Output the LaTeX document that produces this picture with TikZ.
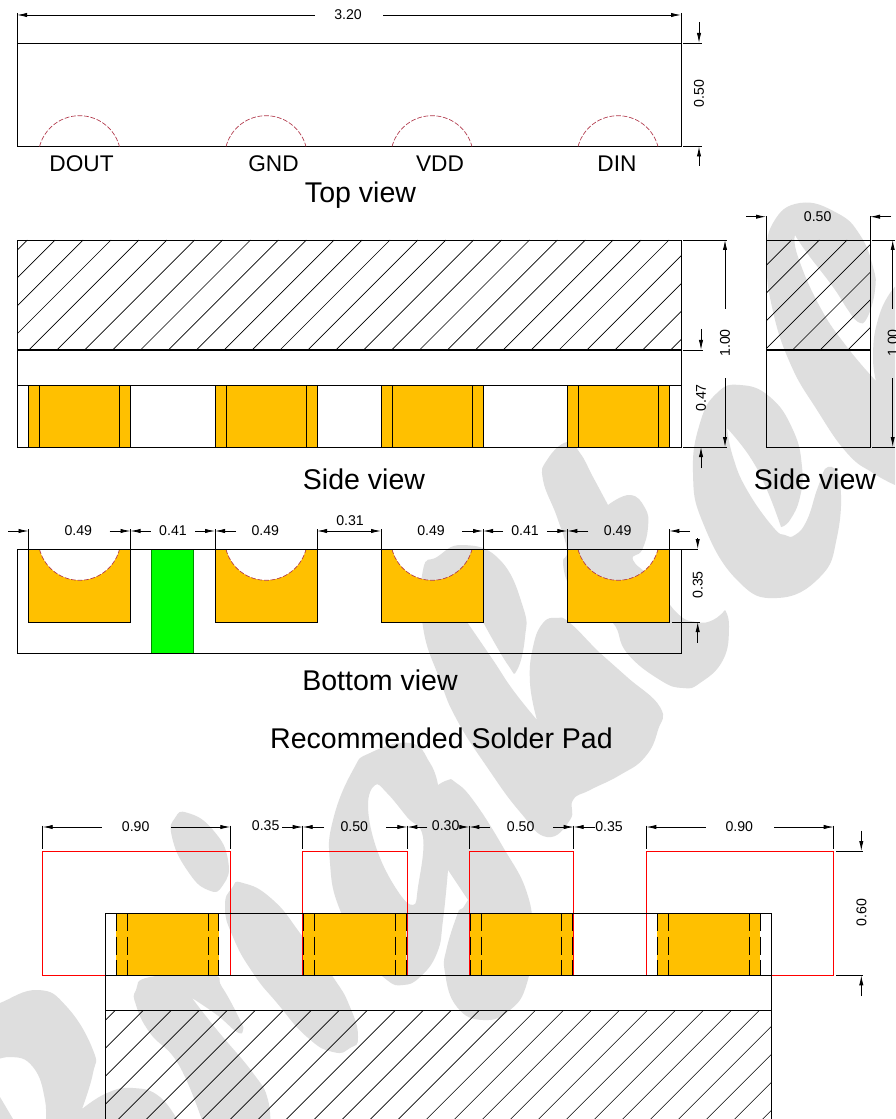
\documentclass[tikz,border=0pt]{standalone}
\usepackage{fontspec}
\setmainfont{Liberation Sans}
\usetikzlibrary{arrows.meta}
\definecolor{padorange}{HTML}{FFC000}
\definecolor{wmgray}{HTML}{DEDEDE}
\definecolor{pinred}{HTML}{B23A4C}
\tikzset{
  outline/.style={line width=0.68pt,black},
  hatchline/.style={line width=0.5pt,black},
  extline/.style={line width=0.62pt,black},
  dimline/.style={line width=0.62pt,black,-{Latex[length=7.5pt,width=3.2pt]}},
  redpad/.style={line width=0.9pt,red},
  pinarc/.style={line width=0.5pt,pinred,dash pattern=on 3.6pt off 1.3pt},
  padline/.style={line width=0.65pt,black},
  paddash/.style={line width=0.65pt,black,dash pattern=on 13.5pt off 4pt},
  dimlabel/.style={inner sep=0pt,font=\fontsize{10.6pt}{12pt}\selectfont},
  pinlabel/.style={inner sep=0pt,font=\fontsize{17pt}{20pt}\selectfont},
  titlelabel/.style={inner sep=0pt,font=\fontsize{21.4pt}{25pt}\selectfont},
  markblob/.style={fill=wmgray,draw=none},
  wm/.style={smooth,tension=0.8},
}
% tail x, tail y, tip x, tip y
\newcommand\dimarrow[4]{\draw[dimline] (#1,#2) -- (#3,#4);}
\newcommand\hatchbox[6]{%
  \begin{scope}
    \clip (#1,#2) rectangle (#3,#4);
    \foreach \k in {-40,...,40}{
      \pgfmathsetmacro\uval{#5+#6*\k}
      \draw[hatchline] ({\uval-#2},#2) -- ({\uval-#4},#4);
    }
  \end{scope}}
\newcommand\sidepad[6]{% x1 x2 x3 x4 ytop ybot
  \fill[padorange] (#1,#5) rectangle (#4,#6);
  \foreach \xp in {#1,#2,#3,#4}{\draw[padline] (\xp,#5) -- (\xp,#6);}}
\newcommand\solderpad[4]{% x1 x2 x3 x4
  \fill[padorange] (#1,913.3) rectangle (#4,975.3);
  \foreach \xp in {#1,#2,#3,#4}{\draw[paddash] (\xp,913.3) -- (\xp,975.3);}}
\newcommand\toparc[1]{%
  \draw[pinarc] plot[variable=\ang,domain=-75.3:75.3,samples=40] ({#1+41.3*sin(\ang)},{157-41.3*cos(\ang)});}
\newcommand\botpad[3]{% x1 x2 cx
  \fill[padorange] (#1,549) -- plot[variable=\ang,domain=-75.3:75.3,samples=40] ({#3+41.3*sin(\ang)},{539+41.3*cos(\ang)}) -- (#2,549) -- (#2,622) -- (#1,622) -- cycle;
  \draw[padline] (#1,549) -- (#1,622) -- (#2,622) -- (#2,549);
  \draw[pinarc] plot[variable=\ang,domain=-75.3:75.3,samples=40] ({#3+41.3*sin(\ang)},{539+41.3*cos(\ang)});}
\begin{document}
\begin{tikzpicture}[x=0.75pt,y=-0.75pt]
\clip (0,0) rectangle (895,1119);
\fill[white] (0,0) rectangle (895,1119);

% ---------- watermark ----------
% e upper
\fill[markblob] plot[wm] coordinates {(876,381) (873,357) (877,323) (890,293) (905,280)} -- (905,490) --
 plot[wm] coordinates {(895,485) (873,473) (847,453) (817,410) (790,363) (772,307) (767,260) (773,223) (800,203) (837,213) (860,235) (873,267) (875,290) (867,318) (858,322) (848,310) (833,287) (807,253) (795,235)} --
 plot[wm] coordinates {(795,235) (798,257) (820,307) (847,347) (876,381)} -- cycle;
% e lower loop
\fill[markblob] plot[wm] coordinates {(727,428) (733,457) (747,490) (773,527) (785,535) (795,535) (807,520) (818,487) (828,467) (840,483) (837,537) (820,577) (777,598) (737,580) (703,523) (693,473) (700,423) (717,393) (740,385) (770,397) (793,430) (802,467) (800,497) (790,520) (781,527)} --
 plot[wm] coordinates {(781,527) (767,490) (750,457) (727,428)} -- cycle;
% t with hook
\fill[markblob] plot[wm] coordinates {(725,610) (729,627) (723,660) (700,683) (683,688) (660,680) (627,653) (613,623) (587,607) (570,587) (563,563) (567,550) (557,517) (543,480) (547,460) (567,442) (580,453) (593,477) (608,505)} --
 plot[wm] coordinates {(608,505) (630,495) (645,508) (648,527) (642,550) (633,560) (653,580) (677,613) (697,622) (713,620) (725,610)} -- cycle;
% h body
\fill[markblob] plot[wm] coordinates {(537,720) (530,683) (533,647) (543,623) (557,618) (570,623) (600,653) (627,677) (660,707) (658,730) (645,757) (620,775) (590,790) (573,800) (570,820) (547,837) (520,812) (487,767) (457,720) (440,680) (423,627) (423,570) (437,557) (463,545) (500,560) (523,607) (525,637) (517,670) (508,665) (483,622)} --
 plot[wm] coordinates {(467,622) (493,660) (513,690) (537,720)} -- cycle;
% g with counter
\fill[markblob,even odd rule] (448,870) -- (468,900) -- (463,908) --
 plot[wm] coordinates {(459,910) (447,947) (445,973) (457,1007) (483,1020) (510,1010) (527,983) (532,937) (527,893) (503,847) (473,800) (455,782) (448,780) (438,785)} --
 plot[wm] coordinates {(438,785) (430,763) (410,743) (370,753) (353,770) (333,820) (330,863) (340,910) (367,957) (387,980) (403,985) (420,977) (437,953) (443,920) (448,870)} -- cycle
 plot[smooth cycle,tension=0.7] coordinates {(375,785) (368,807) (377,850) (397,890) (413,905) (418,887) (423,837) (407,817) (387,793)};
% i dot
\fill[markblob] plot[smooth cycle,tension=0.9] coordinates {(188,813) (213,830) (228,860) (223,885) (208,890) (187,870) (172,837) (175,818)};
% i stem
\fill[markblob] plot[smooth cycle,tension=0.9] coordinates {(243,883) (273,900) (303,937) (333,977) (350,1007) (358,1037) (350,1048) (333,1052) (307,1037) (277,1003) (253,973) (233,937) (225,907) (232,888)};
% r stroke
\fill[markblob] plot[wm] coordinates {(192,998) (217,1030) (253,1073) (268,1100) (270,1135)} -- (207,1135) --
 plot[wm] coordinates {(207,1135) (180,1067) (150,1033) (136,1005) (136,990) (150,977) (210,975) (222,987) (240,1020) (243,1030) (237,1032) (217,1015) (192,998)} -- cycle;
% B
\fill[markblob] plot[wm] coordinates {(-15,1010) (0,1003) (38,990) (67,1007) (93,1050) (93,1073) (82,1109)} --
 plot[wm] coordinates {(82,1109) (107,1093) (133,1088) (160,1097) (180,1125)} -- (45,1130) --
 plot[wm] coordinates {(45,1130) (45,1100) (33,1067) (10,1057) (-15,1065)} -- cycle;
\fill[markblob] (0,1097) -- (13,1119) -- (0,1119) -- cycle;

% ---------- top view ----------
\draw[outline] (17,43) rectangle (681,146.5);
\toparc{79.5}\toparc{266}\toparc{432}\toparc{618}
\node[pinlabel] (pinA) at (81.5,163.5) {DOUT};
\node[pinlabel] (pinB) at (273.5,163.5) {GND};
\node[pinlabel] (pinC) at (440,163.5) {VDD};
\node[pinlabel] (pinD) at (617,163.5) {DIN};
\node[titlelabel] (topTitle) at (360.5,195) {Top view};
\draw[extline] (17,13) -- (17,43);
\draw[extline] (681,13) -- (681,43);
\dimarrow{314.7}{15}{17}{15}
\dimarrow{383}{15}{681}{15}
\node[dimlabel] (d320) at (348,15) {3.20};
\draw[extline] (683,43) -- (702,43);
\draw[extline] (683,146.5) -- (702,146.5);
\dimarrow{699}{22}{699}{43}
\dimarrow{699}{166}{699}{146.5}
\node[dimlabel,rotate=90] (d050a) at (699,93.5) {0.50};

% ---------- side view ----------
\sidepad{28.5}{39.5}{119.5}{130.5}{385}{447}
\sidepad{215}{226}{306.3}{317}{385}{447}
\sidepad{381}{392}{472}{483}{385}{447}
\sidepad{567.3}{578.3}{658.3}{669.3}{385}{447}
\hatchbox{17}{240}{681}{350}{713.7}{27.9}
\draw[outline] (17,240) rectangle (681,447);
\draw[line width=0.9pt] (17,350) -- (681,350);
\draw[outline] (17,385) -- (681,385);
\node[titlelabel] (sideTitle) at (364,479.5) {Side view};
\draw[extline] (683,240) -- (727,240);
\draw[extline] (683,447) -- (727,447);
\dimarrow{725}{309}{725}{240}
\dimarrow{725}{378}{725}{447}
\node[dimlabel,rotate=90] (d100a) at (725,343) {1.00};
\draw[extline] (683,350) -- (703,350);
\dimarrow{701}{329}{701}{350}
\dimarrow{701}{468}{701}{447}
\node[dimlabel,rotate=90] (d047) at (701,398) {0.47};

% ---------- second side view ----------
\hatchbox{766}{240}{870}{350}{1031.7}{27.7}
\draw[outline] (766,240) rectangle (870,447);
\draw[line width=0.9pt] (766,350) -- (870,350);
\node[titlelabel] (sideTitleB) at (815,479.5) {Side view};
\draw[extline] (766,216) -- (766,240);
\draw[extline] (870,216) -- (870,240);
\dimarrow{746}{216.7}{766}{216.7}
\dimarrow{891}{216.7}{870}{216.7}
\node[dimlabel] (d050b) at (817.7,217) {0.50};
\draw[extline] (872,240) -- (895,240);
\draw[extline] (872,447) -- (895,447);
\dimarrow{892.7}{309}{892.7}{240}
\dimarrow{892.7}{378}{892.7}{447}
\node[dimlabel,rotate=90] (d100b) at (892.7,343) {1.00};

% ---------- bottom view ----------
\botpad{28.5}{130.5}{79.5}
\botpad{215}{317}{266}
\botpad{381}{483}{432}
\botpad{567.3}{669.3}{618}
\fill[green] (151.7,549) rectangle (193.7,653);
\draw[line width=0.4pt,black!45!green] (151.7,549) -- (151.7,653) (193.7,549) -- (193.7,653);
\draw[outline] (17,549) -- (698,549);
\draw[outline] (17,549) -- (17,653) -- (681,653) -- (681,549);
\foreach \xe in {28.5,130.5,215,317,381,483,567.3,669.3}{\draw[extline] (\xe,529) -- (\xe,549);}
\dimarrow{8}{531}{28.5}{531}
\dimarrow{109.7}{531}{130.5}{531}
\dimarrow{150.7}{531}{130.5}{531}
\dimarrow{195}{531}{215}{531}
\dimarrow{236}{531}{215}{531}
\draw[line width=0.62pt,{Latex[length=7.5pt,width=3.2pt]}-{Latex[length=7.5pt,width=3.2pt]}] (317,531) -- (381,531);
\dimarrow{462.3}{531}{483}{531}
\dimarrow{503}{531}{483}{531}
\dimarrow{547.3}{531}{567.3}{531}
\dimarrow{588.3}{531}{567.3}{531}
\dimarrow{690}{531}{669.3}{531}
\node[dimlabel] (b1) at (78.3,531) {0.49};
\node[dimlabel] (b2) at (173,531) {0.41};
\node[dimlabel] (b3) at (265.3,531) {0.49};
\node[dimlabel] (b4) at (350,521) {0.31};
\node[dimlabel] (b5) at (431,531) {0.49};
\node[dimlabel] (b6) at (525,531) {0.41};
\node[dimlabel] (b7) at (617.7,531) {0.49};
\dimarrow{697.7}{538}{697.7}{549}
\draw[extline] (671.5,622) -- (700,622);
\dimarrow{697.7}{642.5}{697.7}{622}
\node[dimlabel,rotate=90] (d035) at (697.7,585) {0.35};
\node[titlelabel] (botTitle) at (380,680.5) {Bottom view};
\node[titlelabel] (padTitle) at (441.5,738.5) {Recommended Solder Pad};

% ---------- solder pad ----------
\draw[redpad] (42.7,851.3) rectangle (230.3,975.3);
\draw[redpad] (302.7,851.3) rectangle (407.3,975.3);
\draw[redpad] (469.3,851.3) rectangle (573.7,975.3);
\draw[redpad] (646.3,851.3) rectangle (833.7,975.3);
\solderpad{116.3}{127.3}{208}{218.7}
\solderpad{303}{314.7}{395.3}{406.3}
\solderpad{470}{481.3}{561.7}{572.7}
\solderpad{657.3}{668.3}{749}{760}
\hatchbox{105.3}{1010.7}{771.3}{1130}{1125.7}{28}
\draw[outline] (105.3,1130) -- (105.3,913.3) -- (771.3,913.3) -- (771.3,1130);
\draw[outline] (105.3,975.3) -- (771.3,975.3);
\draw[line width=0.9pt] (105.3,1010.7) -- (771.3,1010.7);
\foreach \xe in {42.7,230.3,302.7,407.3,469.3,573.7,646.3,833.7}{\draw[extline] (\xe,825.5) -- (\xe,849);}
\dimarrow{101.7}{827}{42.7}{827}
\dimarrow{171}{827}{230.3}{827}
\dimarrow{282.3}{827}{302.7}{827}
\dimarrow{324}{827}{302.7}{827}
\dimarrow{386.3}{827}{407.3}{827}
\dimarrow{427.3}{827}{407.3}{827}
\dimarrow{460}{827}{469.3}{827}
\dimarrow{490}{827}{469.3}{827}
\dimarrow{553}{827}{573.7}{827}
\dimarrow{595}{827}{573.7}{827}
\dimarrow{705.7}{827}{646.3}{827}
\dimarrow{774.3}{827}{833.7}{827}
\node[dimlabel] (s1) at (135.7,827) {0.90};
\node[dimlabel] (s2) at (265.7,826) {0.35};
\node[dimlabel] (s3) at (354.3,827) {0.50};
\node[dimlabel] (s4) at (445.7,826) {0.30};
\node[dimlabel] (s5) at (520.7,827) {0.50};
\node[dimlabel] (s6) at (609,827) {0.35};
\node[dimlabel] (s7) at (739.3,827) {0.90};
\draw[extline] (836,851) -- (863.3,851);
\draw[extline] (836,975.3) -- (863.3,975.3);
\dimarrow{861.3}{830.7}{861.3}{851}
\dimarrow{861.3}{996}{861.3}{975.3}
\node[dimlabel,rotate=90] (d060) at (861.5,912.7) {0.60};
\end{tikzpicture}
\end{document}
